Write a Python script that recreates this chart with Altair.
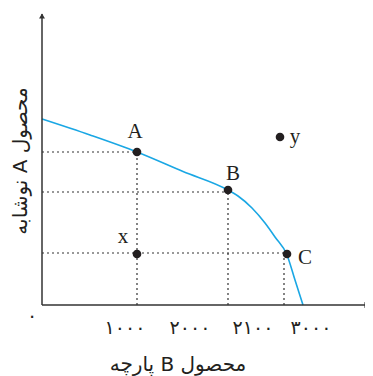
import altair as alt
import pandas as pd

# frontier curve (x = product B, y = product A)
curve_x = [0, 48, 95, 141, 186, 196, 210, 223, 233, 245, 253, 261]
curve_y = [186, 170, 153, 133.5, 115, 109, 97, 82, 68, 50, 25, 0]

# labelled points
pt_names = ["A", "B", "C", "x", "y"]
pt_x = [95, 186, 245, 95, 238]
pt_y = [153, 115, 51, 51, 168]
lab_x = [93, 191, 263, 81, 253]
lab_y = [173, 131, 47, 68, 168]

# dotted guides
hg_x2 = [95, 186, 245]
hg_y = [153, 113, 52]
vg_x = [95, 186, 242]
vg_y2 = [153, 115, 51]

# x tick labels
tick_pos = [83, 148, 211, 269]
tick_labels = ["۱۰۰۰", "۲۰۰۰", "۲۱۰۰", "۳۰۰۰"]

x_title = "پارچه B محصول"
y_title = "\u202bمحصول A نوشابه\u202c"

xs = alt.Scale(domain=[0, 320], nice=False, zero=False)
ys = alt.Scale(domain=[0, 294], nice=False, zero=False)

def X(f="x"):
    return alt.X(f"{f}:Q", scale=xs, axis=None)

def Y(f="y"):
    return alt.Y(f"{f}:Q", scale=ys, axis=None)

ink = "#231f20"

curve = alt.Chart(pd.DataFrame({"x": curve_x, "y": curve_y})).mark_line(
    interpolate="monotone", color="#1aa7e4", strokeWidth=1.6
).encode(x=X(), y=Y())

hg = alt.Chart(pd.DataFrame({"x": [0] * 3, "x2": hg_x2, "y": hg_y})).mark_rule(
    color="#333333", strokeDash=[2, 3], strokeWidth=1.2
).encode(x=X(), x2="x2:Q", y=Y())

vg = alt.Chart(pd.DataFrame({"x": vg_x, "y": [0] * 3, "y2": vg_y2})).mark_rule(
    color="#333333", strokeDash=[2, 3], strokeWidth=1.2
).encode(x=X(), y=Y(), y2="y2:Q")

pts_df = pd.DataFrame({"name": pt_names, "x": pt_x, "y": pt_y, "lx": lab_x, "ly": lab_y})
pts = alt.Chart(pts_df).mark_circle(size=75, color=ink, opacity=1).encode(x=X(), y=Y())
labels = alt.Chart(pts_df).mark_text(
    font="Liberation Serif", fontSize=21, color=ink, baseline="middle", align="center"
).encode(x=X("lx"), y=Y("ly"), text="name:N")

axes_df = pd.DataFrame({"x": [0, 0], "x2": [326, 0], "y": [0, 0], "y2": [0, 291]})
axes = alt.Chart(axes_df).mark_rule(color="#333333", strokeWidth=1.5).encode(
    x=X(), x2="x2:Q", y=Y(), y2="y2:Q"
)

arr_df = pd.DataFrame({"x": [325, 0], "y": [0, 289], "s": ["triangle-right", "triangle-up"]})
arrows = alt.Chart(arr_df).mark_point(filled=True, size=35, color="#333333", opacity=1).encode(
    x=X(), y=Y(), shape=alt.Shape("s:N", scale=None)
)

ticks = alt.Chart(pd.DataFrame({"x": tick_pos, "y": [-23] * 4, "t": tick_labels})).mark_text(
    font="DejaVu Sans", fontSize=19, color=ink, baseline="middle", align="center"
).encode(x=X(), y=Y(), text="t:N")

origin = alt.Chart(pd.DataFrame({"x": [-10], "y": [-11], "t": ["۰"]})).mark_text(
    font="DejaVu Sans", fontSize=19, color=ink, baseline="middle", align="center"
).encode(x=X(), y=Y(), text="t:N")

xt = alt.Chart(pd.DataFrame({"x": [136], "y": [-66], "t": [x_title]})).mark_text(
    font="DejaVu Sans", fontSize=20, color=ink, baseline="alphabetic", align="center"
).encode(x=X(), y=Y(), text="t:N")

yt = alt.Chart(pd.DataFrame({"x": [-21], "y": [144], "t": [y_title]})).mark_text(
    font="DejaVu Sans", fontSize=20, color=ink, baseline="middle", align="center", angle=270
).encode(x=X(), y=Y(), text="t:N")

chart = alt.layer(hg, vg, curve, axes, arrows, pts, labels, ticks, origin, xt, yt).properties(
    width=320,
    height=294,
    padding={"left": 34, "top": 3, "right": 3, "bottom": 72},
    autosize=alt.AutoSizeParams(type="none"),
).configure_view(strokeWidth=0)

chart.save("out.html", embed_options={"renderer": "svg", "actions": False})
